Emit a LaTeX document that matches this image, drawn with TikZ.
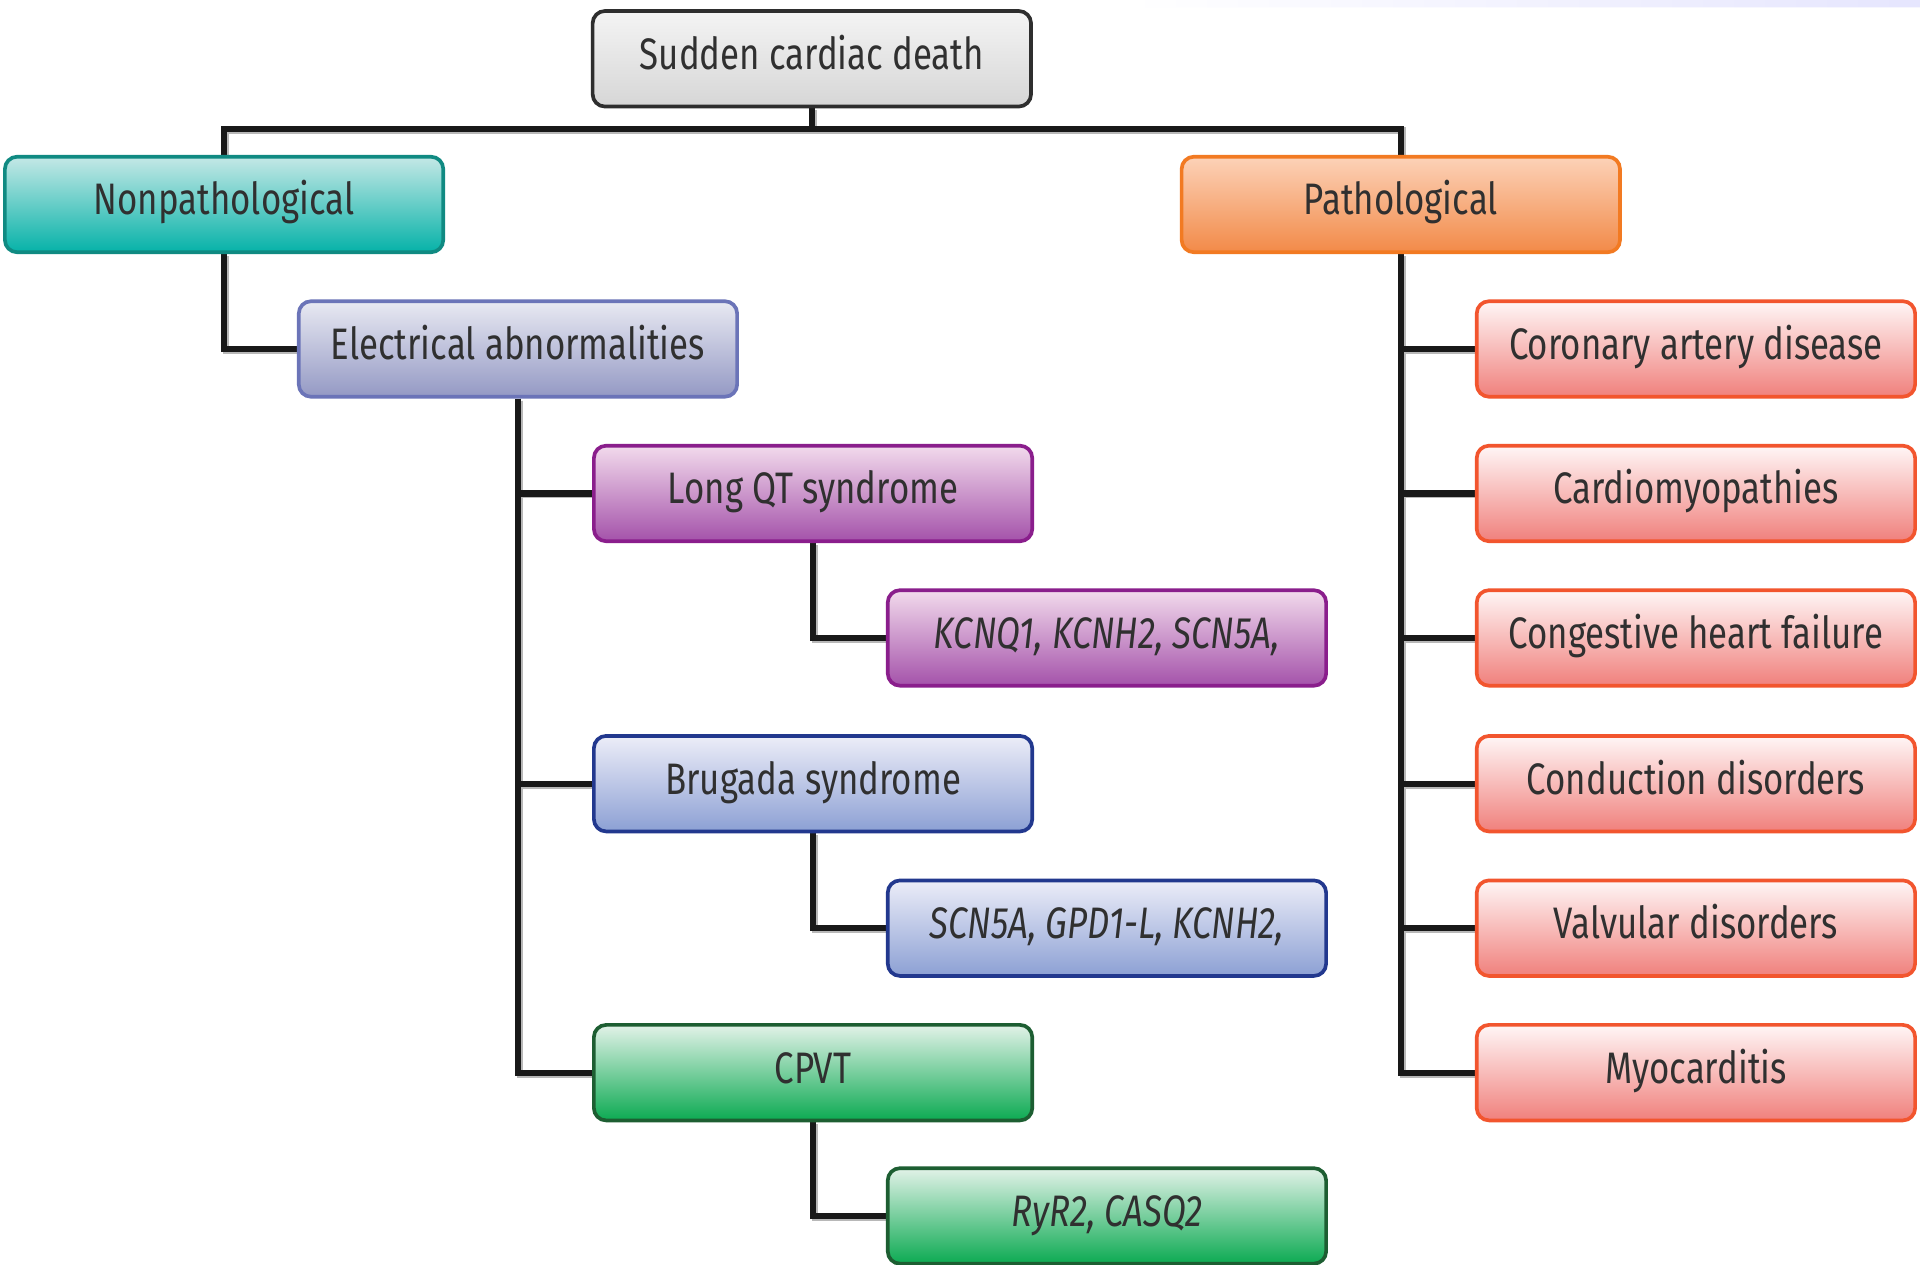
\documentclass[tikz,border=0pt]{standalone}
\usepackage{fontspec}
\setmainfont{Fira Sans}[FakeStretch=0.79]
\usetikzlibrary{calc}
\pgfdeclarelayer{bg}
\pgfsetlayers{bg,main}

% box palettes: top shade, bottom shade, outline
\definecolor{txt}{HTML}{303030}
\definecolor{greyT}{HTML}{F4F4F4}\definecolor{greyB}{HTML}{D6D6D6}\definecolor{greyD}{HTML}{2E2E2E}
\definecolor{tealT}{HTML}{C4E8E6}\definecolor{tealB}{HTML}{06B2A8}\definecolor{tealD}{HTML}{108A82}
\definecolor{oranT}{HTML}{FCD2B8}\definecolor{oranB}{HTML}{F28A48}\definecolor{oranD}{HTML}{F27A22}
\definecolor{lilaT}{HTML}{E8E9F2}\definecolor{lilaB}{HTML}{9499C4}\definecolor{lilaD}{HTML}{6B74B8}
\definecolor{purpT}{HTML}{F2DAEC}\definecolor{purpB}{HTML}{A452AA}\definecolor{purpD}{HTML}{8A1E8C}
\definecolor{blueT}{HTML}{ECEDF8}\definecolor{blueB}{HTML}{8CA0D4}\definecolor{blueD}{HTML}{22388E}
\definecolor{grenT}{HTML}{E2F2E8}\definecolor{grenB}{HTML}{0CAA52}\definecolor{grenD}{HTML}{1D5E32}
\definecolor{redT}{HTML}{FFF6F6}\definecolor{redB}{HTML}{F0807C}\definecolor{redD}{HTML}{F2552E}

\tikzset{
  box/.style={draw=#1D, top color=#1T, bottom color=#1B, line width=3pt,
    rounded corners=10pt, minimum width=358pt, minimum height=78pt,
    inner sep=0pt, text=txt, text height=26pt, text depth=9pt,
    font=\fontsize{36}{40}\selectfont},
  gene/.style={font=\fontsize{36}{40}\selectfont\itshape},
  conn/.style={line width=5pt, draw=black!90},
  connshadow/.style={line width=5pt, draw=black!28},
}

% every connector of the tree, drawn with the style given
\newcommand\treelinks[1]{%
  \draw[#1] (scd.south) -- (bar);
  \draw[#1] (nonpath.north) |- (bar) -| (path.north);
  \draw[#1] (nonpath.south) |- (elec.west);
  \draw[#1] (elec.south) |- (cpvt.west);
  \draw[#1] (elec.south) |- (lqt.west);
  \draw[#1] (elec.south) |- (brug.west);
  \draw[#1] (lqt.south) |- (kcnq.west);
  \draw[#1] (brug.south) |- (scn.west);
  \draw[#1] (cpvt.south) |- (ryr.west);
  \draw[#1] (path.south) |- (myo.west);
  \foreach \n in {cad,cmp,chf,cond,valv}
    \draw[#1] (path.south) |- (\n.west);
}

\begin{document}
\begin{tikzpicture}[x=1pt,y=-1pt]
\useasboundingbox (0,0) rectangle (1568,1033);

% root and first level
\node[box=grey] (scd) at (663,48) {Sudden cardiac death};
\node[box=teal] (nonpath) at (183,167) {Nonpathological};
\node[box=oran] (path) at (1144,167) {Pathological};
\coordinate (bar) at (663,105);

% nonpathological branch
\node[box=lila] (elec) at (423,285) {Electrical abnormalities};
\node[box=purp] (lqt) at (664,403) {Long QT syndrome};
\node[box=purp, gene] (kcnq) at (904,521) {KCNQ1, KCNH2, SCN5A,};
\node[box=blue] (brug) at (664,640) {Brugada syndrome};
\node[box=blue, gene] (scn) at (904,758) {SCN5A, GPD1-L, KCNH2,};
\node[box=gren] (cpvt) at (664,876) {CPVT};
\node[box=gren, gene] (ryr) at (904,993) {RyR2, CASQ2};

% pathological branch
\node[box=red] (cad) at (1385,285) {Coronary artery disease};
\node[box=red] (cmp) at (1385,403) {Cardiomyopathies};
\node[box=red] (chf) at (1385,521) {Congestive heart failure};
\node[box=red] (cond) at (1385,640) {Conduction disorders};
\node[box=red] (valv) at (1385,758) {Valvular disorders};
\node[box=red] (myo) at (1385,876) {Myocarditis};

\begin{pgfonlayer}{bg}
  \fill[white] (0,0) rectangle (1568,1033);
  % faint strip along the top edge
  \shade[left color=white, right color=black!4!blue!10!white]
    (922,0) -- (1568,0) -- (1568,6) -- (930,6) -- cycle;
  % soft grey edge first, then the black lines over it
  \begin{scope}[transform canvas={shift={(1.6pt,-1.6pt)}}]
    \treelinks{connshadow}
  \end{scope}
  \treelinks{conn}
\end{pgfonlayer}
\end{tikzpicture}
\end{document}
